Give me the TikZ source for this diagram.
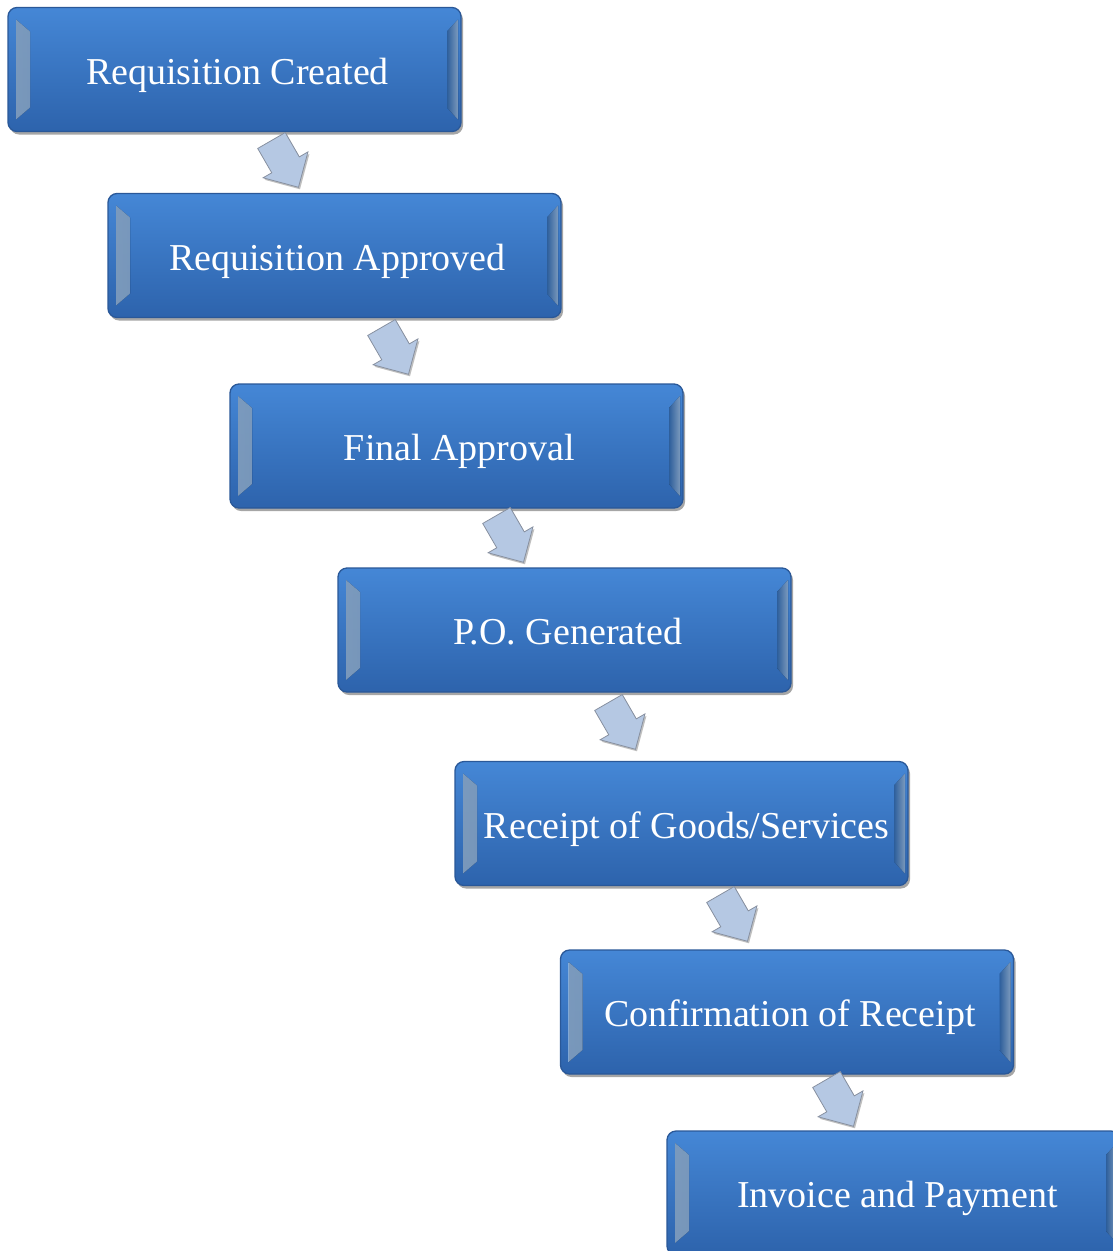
\documentclass[tikz,border=0pt]{standalone}
\usepackage{fontspec}
\setmainfont{Liberation Serif}
\usetikzlibrary{shapes.arrows,shadows}
\definecolor{boxtop}{HTML}{4587D6}
\definecolor{boxbot}{HTML}{2D63AC}
\definecolor{boxedge}{HTML}{2A5898}
\definecolor{bevlight}{HTML}{A9CDF5}
\definecolor{boxmid}{HTML}{3B79C6}
\definecolor{arrfill}{HTML}{B5C8E3}
\definecolor{arredge}{HTML}{8790A0}
\tikzset{
  stepbox/.style={rounded corners=9pt, minimum width=453pt, minimum height=124pt,
    inner sep=0pt, top color=boxtop, bottom color=boxbot, draw=boxedge, line width=1.3pt,
    text=white, font=\fontsize{38}{44}\selectfont, text height=29pt, text depth=0pt,
    drop shadow={shadow xshift=2pt, shadow yshift=-3pt, opacity=.35, fill=black},
    path picture={
      \fill[sharp corners, left color=bevlight, right color=boxmid, opacity=.7]
        ([xshift=8pt,yshift=-12pt]path picture bounding box.north west) --
        ([xshift=22pt,yshift=-24pt]path picture bounding box.north west) --
        ([xshift=22pt,yshift=24pt]path picture bounding box.south west) --
        ([xshift=8pt,yshift=12pt]path picture bounding box.south west) -- cycle;
      \fill[sharp corners, right color=bevlight, left color=boxmid, opacity=.7]
        ([xshift=-3pt,yshift=-12pt]path picture bounding box.north east) --
        ([xshift=-14pt,yshift=-24pt]path picture bounding box.north east) --
        ([xshift=-14pt,yshift=24pt]path picture bounding box.south east) --
        ([xshift=-3pt,yshift=12pt]path picture bounding box.south east) -- cycle;
    }},
  flowarrow/.style={single arrow, single arrow head extend=10pt,
    minimum height=54pt, inner xsep=0pt, inner ysep=15.5pt, fill=arrfill, draw=arredge, line width=0.8pt,
    drop shadow={shadow xshift=1.5pt, shadow yshift=-2pt, opacity=.25, fill=black}}
}
\begin{document}
\begin{tikzpicture}[x=1pt,y=-1pt]
\useasboundingbox (0,0) rectangle (1113,1251);
\clip (0,0) rectangle (1113,1251);
\node[stepbox] (s1) at (234.5,69.5) {\hspace*{6pt}Requisition Created};
\node[stepbox] (s2) at (334.5,255.5) {\hspace*{6pt}Requisition Approved};
\node[stepbox] (s3) at (456.5,446) {\hspace*{6pt}Final Approval};
\node[stepbox] (s4) at (564.5,630) {\hspace*{6pt}P.O. Generated};
\node[stepbox] (s5) at (681.5,823.5) {\hspace*{10pt}Receipt of Goods/Services};
\node[stepbox] (s6) at (787,1012) {\hspace*{6pt}Confirmation of Receipt};
\node[stepbox] (s7) at (893.5,1193) {\hspace*{8pt}Invoice and Payment};
\node[flowarrow, rotate=-60] (a1) at (281,157) {};
\node[flowarrow, rotate=-60] (a2) at (391,344) {};
\node[flowarrow, rotate=-60] (a3) at (506,532) {};
\node[flowarrow, rotate=-60] (a4) at (618,719) {};
\node[flowarrow, rotate=-60] (a5) at (730,911) {};
\node[flowarrow, rotate=-60] (a6) at (836,1096) {};
\end{tikzpicture}
\end{document}
